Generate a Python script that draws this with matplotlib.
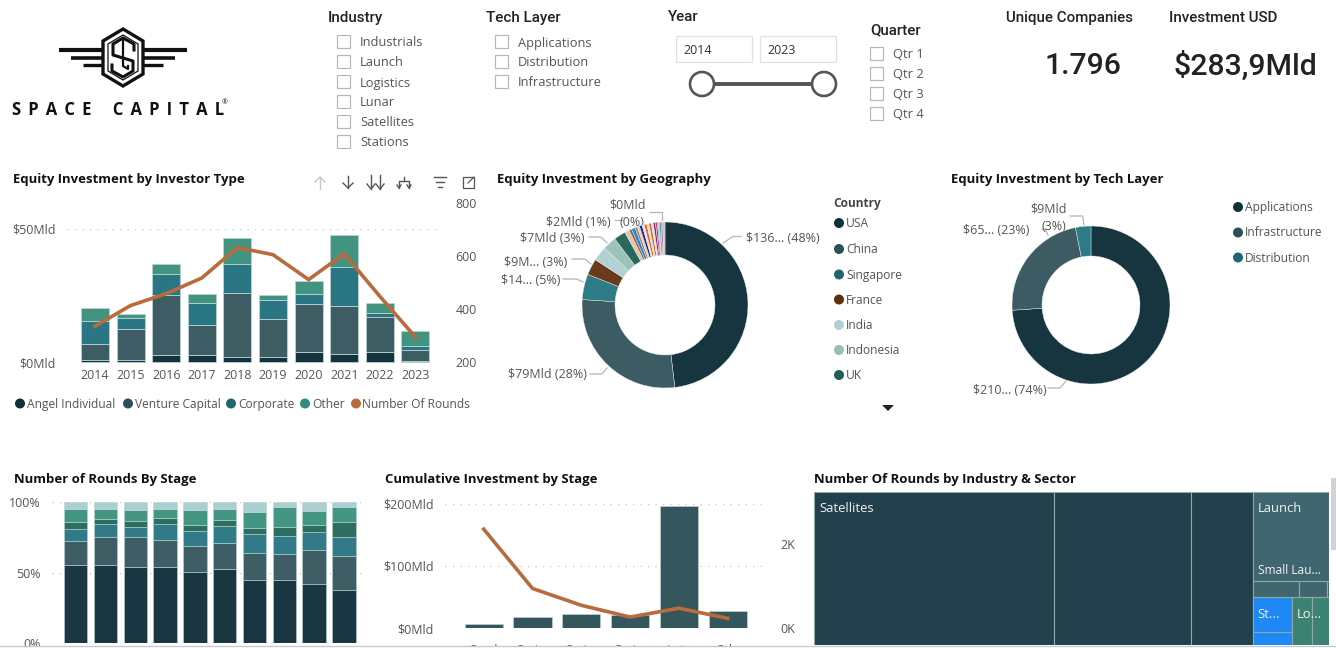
import matplotlib
matplotlib.use("Agg")
import matplotlib.pyplot as plt
import numpy as np
from matplotlib.patches import Circle, Polygon, Rectangle

plt.rcParams["font.family"] = ["Open Sans", "DejaVu Sans"]

W, H = 1336, 648
TEXT = "#555555"
TITLE = "#111111"
GRID = "#c4c4c4"
LINE = "#b86b3c"
EDGE = "#b9d3d3"

# investor type chart
years = ["2014", "2015", "2016", "2017", "2018", "2019", "2020", "2021", "2022", "2023"]
angel = [0.6, 0.9, 2.5, 2.8, 1.9, 1.9, 3.8, 3.0, 3.8, 0.2]
venture = [6.2, 11.6, 22.7, 11.2, 24.2, 14.3, 18.1, 18.0, 13.1, 4.2]
corporate = [8.6, 4.1, 7.7, 8.2, 10.9, 7.1, 3.7, 14.9, 1.6, 1.5]
other = [4.9, 1.4, 4.1, 3.2, 9.7, 1.8, 4.8, 11.8, 3.8, 5.7]
rounds = [335, 413, 458, 517, 632, 605, 511, 608, 448, 294]
investor_names = ["Angel Individual", "Venture Capital", "Corporate", "Other"]
investor_colors = ["#15333f", "#3e5c64", "#2b7685", "#429480"]

# geography donut
countries = ["USA", "China", "Singapore", "France", "India", "Indonesia", "UK"]
country_values = [136, 79, 14, 9, 8, 7.5, 6.5]
country_colors = ["#17353f", "#3c5b62", "#2f7a87", "#6a3a1a", "#b2d1d4", "#9cc3b8", "#28695d"]
small_values = [2.6, 1.4, 2.0, 1.3, 1.3, 1.5, 1.2, 1.4, 1.2, 1.3, 1.1, 1.2, 1.0, 0.6, 0.6, 0.8, 1.0, 1.2]
small_colors = ["#e3c4b0", "#a05a28", "#1e88e5", "#bf7a3c", "#e9cdb7", "#12239e", "#f2e0d0",
                "#e0662a", "#f0dccb", "#d9652a", "#f3e3d6", "#8e2a8e", "#c0369c", "#4caf50",
                "#f0a030", "#2f8f9f", "#a090b0", "#d8b8c8"]
legend_countries = ["#0f2f3b", "#2b5058", "#1f6672", "#5e2e0d", "#b0d0d3", "#97c0b5", "#1f5f56"]

# tech layer donut
layers = ["Applications", "Infrastructure", "Distribution"]
layer_values = [210, 65, 9]
layer_colors = ["#17353f", "#3c5b62", "#2f7a87"]

# rounds by stage, share per year
stage_seed = [55.6, 55.3, 54.1, 54.1, 50.1, 52.2, 44.4, 44.4, 41.6, 37.8]
stage_a = [17.0, 19.6, 20.8, 19.2, 18.5, 19.0, 19.2, 18.5, 24.6, 23.7]
stage_b = [8.0, 9.3, 7.4, 10.9, 10.8, 11.8, 13.5, 13.2, 12.3, 13.7]
stage_c = [5.0, 4.0, 4.0, 4.2, 4.1, 4.5, 4.7, 6.4, 5.0, 10.8]
stage_late = [9.2, 7.1, 7.8, 6.4, 11.1, 7.8, 11.3, 13.7, 10.4, 10.2]
stage_other = [5.2, 4.7, 5.9, 5.2, 5.4, 4.7, 6.9, 3.8, 6.1, 3.8]
stage_colors = ["#1a3642", "#3f5d65", "#317a88", "#2d6e60", "#439682", "#abcfd1"]

# cumulative by stage
stages = ["Seed", "Seri...", "Seri...", "Seri...", "Late", "Oth."]
stage_invest = [5.9, 17, 22, 21.4, 195.7, 26.7]
stage_rounds = [2.35, 0.94, 0.54, 0.26, 0.47, 0.23]

# treemap, number of rounds
satellites = [2247, 1283, 571]
launch_small = [414]
launch_rest = [47, 28, 2]
stations = [84, 31]
logistics = [59, 50]

industries = ["Industrials", "Launch", "Logistics", "Lunar", "Satellites", "Stations"]
tech_layers = ["Applications", "Distribution", "Infrastructure"]
quarters = ["Qtr 1", "Qtr 2", "Qtr 3", "Qtr 4"]

fig = plt.figure(figsize=(W / 100, H / 100), dpi=100, facecolor="white")


def panel(x0, y0, x1, y1, z=1):
    a = fig.add_axes([x0 / W, 1 - y1 / H, (x1 - x0) / W, (y1 - y0) / H], zorder=z)
    a.patch.set_alpha(0)
    return a


def pixel_layer(z):
    a = panel(0, 0, W, H, z)
    a.set_xlim(0, W)
    a.set_ylim(H, 0)
    a.axis("off")
    return a


def clean(a):
    for s in a.spines.values():
        s.set_visible(False)
    a.tick_params(length=0, labelsize=8.9, labelcolor=TEXT)


ov = pixel_layer(0)


def label(x, y, s, size=9.0, color=TEXT, **kw):
    kw.setdefault("va", "center")
    ov.text(x, y + 1, s, fontsize=size, color=color, **kw)


def title(x, y, s):
    label(x, y, s, size=9.45, color=TITLE, fontweight="bold")


def leader(*pts):
    xs, ys = zip(*pts)
    ov.plot(xs, ys, color="#b5b5b5", lw=0.9)


def dot(x, y, color):
    ov.add_patch(Circle((x, y), 5, color=color, lw=0))


# logo
for y, x0, lw in [(50, 59, 3.0), (57.5, 71, 2.6), (64.5, 83, 2.4)]:
    ov.plot([x0, 103], [y, y], color="#111111", lw=lw, solid_capstyle="butt")
    ov.plot([143, 246 - x0], [y, y], color="#111111", lw=lw, solid_capstyle="butt")
ov.add_patch(Polygon([(123, 29), (143, 41), (143, 74), (123, 86), (103, 74), (103, 41)],
                     fill=False, ec="#111111", lw=2.4))
ov.add_patch(Polygon([(123, 35), (138, 44), (138, 71), (123, 80), (108, 71), (108, 44)],
                     fill=False, ec="#111111", lw=0.9))
ov.plot([134, 134, 123, 113, 113, 133, 133, 123, 112, 112], [50, 44, 38, 44, 55, 61, 71, 77, 71, 65],
        color="#111111", lw=2.2)
ov.plot([123, 123, 128, 128], [38, 66, 69, 66], color="#111111", lw=1.6)
gap = "\u2004\u200a"
logo_text = (gap * 3).join([gap.join("SPACE"), gap.join("CAPITAL")])
label(12, 109, logo_text, size=12, color="#111111", fontweight="bold")
label(222, 102, "®", size=5, color="#111111")

# slicers
HEAD = dict(size=10.9, color="#222222", family=["Roboto", "DejaVu Sans"], fontweight="medium")


def checks(x, rows, names):
    for y, name in zip(rows, names):
        ov.add_patch(Rectangle((x, y - 7), 13, 13, fill=False, ec="#b8b8b8", lw=0.9))
        label(x + 23, y, name, size=9.3, color=TEXT)


label(328, 17, "Industry", **HEAD)
checks(337, [42, 62, 82, 102, 122, 142], industries)
label(486, 17, "Tech Layer", **HEAD)
checks(495, [42, 62, 82], tech_layers)
label(668, 16, "Year", **HEAD)
for x0, s in [(676, "2014"), (760, "2023")]:
    ov.add_patch(Rectangle((x0, 36), 76, 26, fill=False, ec="#e2e2e2", lw=0.9))
    label(x0 + 7, 49, s, size=9, color="#333333")
ov.plot([702, 824], [84, 84], color="#555555", lw=2.8)
for x0 in (702, 824):
    ov.add_patch(Circle((x0, 84), 12, fc="white", ec="#555555", lw=1.9, zorder=3))
label(870, 29, "Quarter", **HEAD)
checks(870, [54, 74, 94, 114], quarters)

# cards
label(1006, 17, "Unique Companies", **HEAD)
label(1169, 17, "Investment USD", **HEAD)
BIG = dict(size=21.8, color="#222222", family=["Roboto", "DejaVu Sans"], ha="center", fontweight="medium")
label(1083, 65, "1.796", **BIG)
label(1245, 65, "$283,9Mld", **BIG)

# investor type chart
title(13, 179, "Equity Investment by Investor Type")
step = 35.6
ax = panel(67, 229, 440, 362, 2)
ax.set_ylim(0, 50)
ax.set_xlim((67 - 95) / step, (440 - 95) / step)
xs = np.arange(len(years))
base = np.zeros(len(years))
for vals, col in zip([angel, venture, corporate, other], investor_colors):
    ax.bar(xs, vals, 0.79, bottom=base, color=col, edgecolor=EDGE, linewidth=0.6)
    base += np.array(vals)
clean(ax)
ax.set_yticks([0, 50], ["$0Mld", "$50Mld"])
ax.set_xticks(xs, years)
ax.tick_params(axis="y", pad=8)
ax.tick_params(axis="x", pad=5)
ax.grid(axis="y", color=GRID, ls=(0, (1, 5)), lw=0.9)
ax.set_axisbelow(True)
for b in ax.patches:
    b.set_clip_on(False)
axr = panel(67, 203, 440, 362, 3)
axr.set_xlim(ax.get_xlim())
axr.set_ylim(200, 800)
axr.plot(xs, rounds, color=LINE, lw=2.6, solid_joinstyle="miter")
axr.yaxis.tick_right()
axr.set_xticks([])
axr.set_yticks([200, 400, 600, 800])
clean(axr)
axr.tick_params(axis="y", pad=11)
for x0, lx, s, col in zip([20, 128, 231, 305, 356], [27, 135, 238, 312, 362],
                          investor_names + ["Number Of Rounds"],
                          ["#0f2f3b", "#2b5058", "#1f6672", "#2f8f7c", LINE]):
    dot(x0, 403.5, col)
    label(lx, 403.5, s, size=8.65)

# toolbar icons
ICON = "#555555"
for x0, col, up in [(320, "#c8c8c8", True), (348, ICON, False)]:
    tip, tail = (177, 189) if up else (188, 176)
    ov.plot([x0, x0], [tail, tip], color=col, lw=1)
    ov.plot([x0 - 5, x0, x0 + 5], [tip + (5 if up else -5), tip, tip + (5 if up else -5)], color=col, lw=1)
for x0 in (371, 380):
    ov.plot([x0, x0], [175, 189], color=ICON, lw=1)
    ov.plot([x0 - 4, x0, x0 + 4], [184, 189, 184], color=ICON, lw=1)
ov.plot([399, 399, 409, 409], [188, 181, 181, 188], color=ICON, lw=1)
ov.plot([404, 404], [177, 181], color=ICON, lw=1)
ov.plot([397, 399, 401], [185, 188, 185], color=ICON, lw=1)
ov.plot([407, 409, 411], [185, 188, 185], color=ICON, lw=1)
for y, a0, a1 in [(177, 434, 446), (182, 436, 444), (187, 438, 442)]:
    ov.plot([a0, a1], [y, y], color=ICON, lw=1)
ov.plot([469, 463, 463, 474, 474], [177, 177, 188, 188, 182], color=ICON, lw=0.9)
ov.plot([468, 474], [183, 177], color=ICON, lw=0.9)
ov.plot([470, 474, 474], [177, 177, 181], color=ICON, lw=0.9)


def donut(cx, cy, r_out, r_in, values, colors):
    a = panel(cx - r_out, cy - r_out, cx + r_out, cy + r_out, 2)
    a.pie(values, colors=colors, startangle=90, counterclock=False, radius=1,
          wedgeprops=dict(width=1 - r_in / r_out, linewidth=0.3, edgecolor="#e8eeee"))
    a.set_xlim(-1, 1)
    a.set_ylim(-1, 1)
    return a


# geography donut
title(497, 179, "Equity Investment by Geography")
donut(665, 305, 83, 50, country_values + small_values, country_colors + small_colors)
label(746, 238, "$136... (48%)")
label(508, 374, "$79Mld (28%)")
label(501, 280, "$14... (5%)")
label(504, 261, "$9M... (3%)")
label(520, 238, "$7Mld (3%)")
label(546, 221, "$2Mld (1%)")
label(620, 221, "(0%)")
label(609, 204, "$0Mld")
leader((723, 243), (733, 236.5), (741, 236.5))
leader((607, 368), (602, 374), (590, 374))
leader((563, 279), (577, 279), (583, 282))
leader((572, 259), (585, 259), (591, 264))
leader((589, 237), (601, 237), (607, 243))
leader((615, 220), (622, 220))
leader((650, 212), (662, 212), (662, 220))
label(833, 202, "Country", size=8.6, color="#444444", fontweight="bold")
for y, s, col in zip([223, 249, 274.5, 299.5, 325, 350, 375], countries, legend_countries):
    dot(839, y, col)
    label(846, y - 0.5, s, size=8.65)
ov.add_patch(Polygon([(882, 405), (894, 405), (888, 411)], color="#222222", lw=0))

# tech layer donut
title(951, 179, "Equity Investment by Tech Layer")
donut(1091, 305, 79, 49, layer_values, layer_colors)
label(1030, 208, "$9Mld")
label(1041, 226, "(3%)")
label(963, 229.5, "$65... (23%)")
label(973, 389, "$210... (74%)")
leader((1042, 229), (1045, 229), (1048, 235))
leader((1070, 216), (1082.7, 216), (1084, 225))
leader((1048, 388), (1060, 388), (1066, 381))
for y, s, col in zip([207, 232.5, 257.5], layers, ["#0f2f3b", "#2b5058", "#1f6672"]):
    dot(1238, y, col)
    label(1245, y - 0.5, s, size=8.65)

# rounds by stage
title(14, 479, "Number of Rounds By Stage")
ax3 = panel(52, 502, 362, 643, 2)
ax3.set_ylim(0, 100)
ax3.set_xlim((52 - 75.7) / 29.8, (362 - 75.7) / 29.8)
xs3 = np.arange(len(years))
base = np.zeros(len(years))
for vals, col in zip([stage_seed, stage_a, stage_b, stage_c, stage_late, stage_other], stage_colors):
    ax3.bar(xs3, vals, 0.78, bottom=base, color=col, edgecolor=EDGE, linewidth=0.4)
    base += np.array(vals)
clean(ax3)
ax3.set_yticks([0, 50, 100], ["0%", "50%", "100%"])
ax3.set_xticks([])
ax3.tick_params(axis="y", pad=8)
ax3.grid(axis="y", color=GRID, ls=(0, (1, 5)), lw=0.9)
ax3.set_axisbelow(True)

# cumulative by stage
title(385, 479, "Cumulative Investment by Stage")
ax4 = panel(445, 503.5, 768, 628, 2)
ax4.set_ylim(0, 200)
ax4.set_xlim((445 - 483.7) / 48.8, (768 - 483.7) / 48.8)
xs4 = np.arange(len(stages))
ax4.bar(xs4, stage_invest, 0.78, color="#35565d", edgecolor=EDGE, linewidth=0.5)
clean(ax4)
ax4.set_yticks([0, 100, 200], ["$0Mld", "$100Mld", "$200Mld"])
ax4.set_xticks(xs4, stages)
ax4.tick_params(axis="y", pad=8)
ax4.tick_params(axis="x", pad=11.5)
ax4.grid(axis="y", color=GRID, ls=(0, (1, 5)), lw=0.9)
ax4.set_axisbelow(True)
ax4r = panel(445, 503.5, 768, 628, 3)
ax4r.set_xlim(ax4.get_xlim())
ax4r.set_ylim(0, 2.96)
ax4r.plot(xs4, stage_rounds, color=LINE, lw=2.6, solid_joinstyle="miter")
ax4r.yaxis.tick_right()
ax4r.set_xticks([])
ax4r.set_yticks([0, 2], ["0K", "2K"])
clean(ax4r)
ax4r.tick_params(axis="y", pad=9)

# treemap
title(814, 479, "Number Of Rounds by Industry & Sector")
tm = panel(814, 492, 1329, 645, 2)
tm.set_xlim(0, 1)
tm.set_ylim(1, 0)
tm.axis("off")
CELL = "#8fa9ab"


def cell(x, y, w, h, col, lw=0.8):
    tm.add_patch(Rectangle((x, y), w, h, fc=col, ec=CELL, lw=lw))


left = sum(satellites)
lsum = sum(launch_small) + sum(launch_rest)
right = lsum + sum(stations) + sum(logistics)
left_w = left / (left + right)
x = 0
for v in satellites:
    cell(x, 0, left_w * v / left, 1, "#21404b")
    x += left_w * v / left
right_w = 1 - left_w
launch_h = lsum / right
small_h = launch_h * sum(launch_small) / lsum
cell(left_w, 0, right_w, small_h, "#3f666e")
x = left_w
for v in launch_rest:
    cell(x, small_h, right_w * v / sum(launch_rest), launch_h - small_h, "#3f666e")
    x += right_w * v / sum(launch_rest)
st_w = right_w * sum(stations) / (sum(stations) + sum(logistics))
y = launch_h
for v in stations:
    cell(left_w, y, st_w, (1 - launch_h) * v / sum(stations), "#1e88f5")
    y += (1 - launch_h) * v / sum(stations)
x = left_w + st_w
for v in logistics:
    cell(x, launch_h, (right_w - st_w) * v / sum(logistics), 1 - launch_h, "#3b8270")
    x += (right_w - st_w) * v / sum(logistics)
TM_TXT = dict(fontsize=9.4, color="#f2f2f2", va="center", zorder=5)
tm.text(5 / 515, 17 / 153, "Satellites", **TM_TXT)
tm.text(left_w + 5 / 515, 17 / 153, "Launch", **TM_TXT)
tm.text(left_w + 5 / 515, 78 / 153, "Small Lau...", **{**TM_TXT, "fontsize": 8.6})
tm.text(left_w + 5 / 515, 122 / 153, "St...", **TM_TXT)
tm.text(left_w + st_w + 5 / 515, 122 / 153, "Lo...", **TM_TXT)

# page edge: the screenshot cuts the bottom row
top = pixel_layer(20)
top.add_patch(Rectangle((0, 645.5), W, 3, color="white", lw=0))
top.plot([0, W], [646.3, 646.3], color="#c9c9c9", lw=1)
top.add_patch(Rectangle((1331, 478), 5, 72, color="#d2d2d2", lw=0))

fig.savefig("out.png", dpi=100)
